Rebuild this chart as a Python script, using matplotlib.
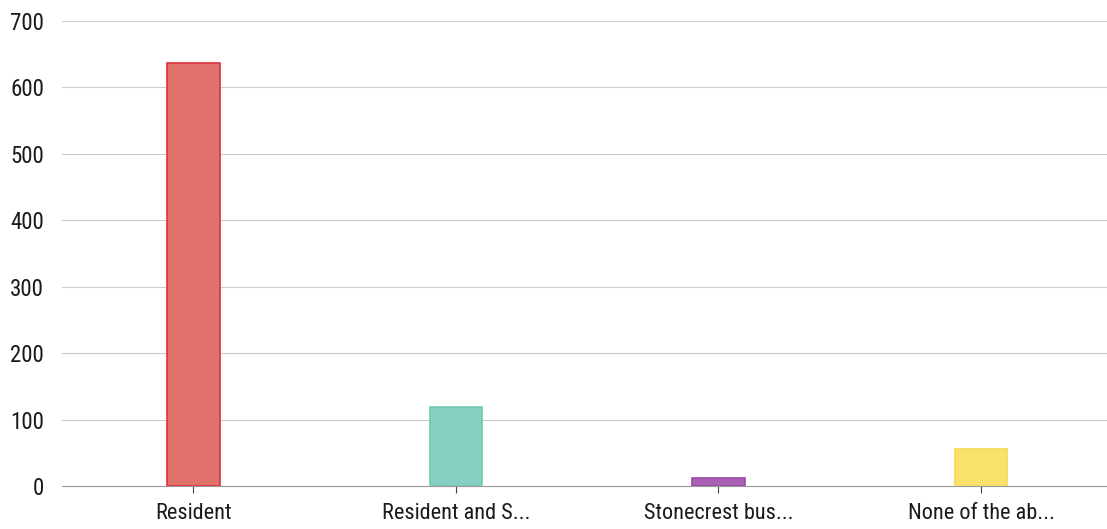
import matplotlib
matplotlib.use('Agg')
import matplotlib.pyplot as plt
import numpy as np

categories = ['Resident', 'Resident and S...', 'Stonecrest bus...', 'None of the ab...']
counts = [637, 119, 13, 56]
fills = ['#e2736c', '#86d0c1', '#a860b2', '#fbe26c']
edges = ['#e0303e', '#78c8b6', '#9a4aa6', '#f6d955']

plt.rcParams['font.family'] = ['Roboto Condensed', 'DejaVu Sans']

fig = plt.figure(figsize=(11.07, 5.29), dpi=100)
ax = fig.add_axes([0.056, 0.081, 0.944, 0.88])

x_pos = np.arange(len(categories))
ax.bar(x_pos, counts, width=0.2, color=fills, edgecolor=edges, linewidth=1.2, zorder=3)

# Axes layout
ax.set_xlim(-0.5, 3.48)
ax.set_ylim(0, 700)
ax.set_yticks(range(0, 701, 100))
ax.set_xticks(x_pos, categories)
ax.grid(axis='y', color='#cccccc', linewidth=0.8, zorder=0)
for s in ['top', 'right', 'left']:
    ax.spines[s].set_visible(False)
ax.spines['bottom'].set_color('#9a9a9a')
ax.tick_params(axis='y', length=0, pad=13, labelsize=16.5, labelcolor='#1a1a1a')
ax.tick_params(axis='x', length=5, color='#444444', pad=7, labelsize=16, labelcolor='#1a1a1a')

fig.savefig('out.png', dpi=100)
